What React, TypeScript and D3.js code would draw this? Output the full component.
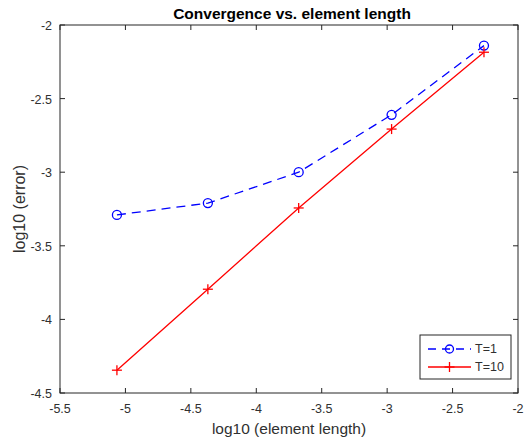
import React from "react";
import * as d3 from "d3";

const xVals = [-5.065, -4.37, -3.676, -2.966, -2.26];
const seriesT1 = [-3.29, -3.21, -3.0, -2.61, -2.14];
const seriesT10 = [-4.345, -3.795, -3.243, -2.707, -2.185];
const xTicks = [-5.5, -5, -4.5, -4, -3.5, -3, -2.5, -2];
const yTicks = [-4.5, -4, -3.5, -3, -2.5, -2];

const W = 528, H = 440;
const M = { left: 60, right: 518, top: 25, bottom: 393 };

export default function App() {
  const x = d3.scaleLinear().domain([-5.5, -2]).range([M.left, M.right]);
  const y = d3.scaleLinear().domain([-4.5, -2]).range([M.bottom, M.top]);
  const line = d3.line<number>().x((_, i) => x(xVals[i])).y((d) => y(d));
  const font = "Liberation Sans, Arial, sans-serif";
  const tickLen = 5;
  const axisColor = "#262626";
  const textColor = "#303030";
  return (
    <svg width={W} height={H} style={{ position: "absolute", left: 0, top: 0, background: "#fff" }} fontFamily={font}>
      <rect x={0} y={0} width={W} height={H} fill="#fff" />
      <rect x={M.left} y={M.top} width={M.right - M.left} height={M.bottom - M.top} fill="#fff" stroke={axisColor} strokeWidth={1} />
      {xTicks.map((t) => (
        <g key={"x" + t}>
          <line x1={x(t)} x2={x(t)} y1={M.bottom} y2={M.bottom - tickLen} stroke={axisColor} />
          <line x1={x(t)} x2={x(t)} y1={M.top} y2={M.top + tickLen} stroke={axisColor} />
          <text x={x(t)} y={M.bottom + 20} textAnchor="middle" fontSize={12.5} fill={textColor}>{t}</text>
        </g>
      ))}
      {yTicks.map((t) => (
        <g key={"y" + t}>
          <line x1={M.left} x2={M.left + tickLen} y1={y(t)} y2={y(t)} stroke={axisColor} />
          <line x1={M.right} x2={M.right - tickLen} y1={y(t)} y2={y(t)} stroke={axisColor} />
          <text x={M.left - 8} y={y(t) + 5} textAnchor="end" fontSize={12.5} fill={textColor}>{t}</text>
        </g>
      ))}
      <text x={(M.left + M.right) / 2 + 3} y={19} textAnchor="middle" fontSize={15.5} fontWeight="bold" fill="#000">Convergence vs. element length</text>
      <text x={(M.left + M.right) / 2} y={434} textAnchor="middle" fontSize={15.5} fill={textColor}>log10 (element length)</text>
      <text transform={`translate(25, ${(M.top + M.bottom) / 2}) rotate(-90)`} textAnchor="middle" fontSize={16} fill={textColor}>log10 (error)</text>

      <path d={line(seriesT1) || ""} fill="none" stroke="#0000ff" strokeWidth={1.3} strokeDasharray="9,6" />
      {seriesT1.map((v, i) => (
        <circle key={"c" + i} cx={x(xVals[i])} cy={y(v)} r={4.5} fill="none" stroke="#0000ff" strokeWidth={1.3} />
      ))}
      <path d={line(seriesT10) || ""} fill="none" stroke="#ff0000" strokeWidth={1.3} />
      {seriesT10.map((v, i) => (
        <g key={"p" + i} stroke="#ff0000" strokeWidth={1.3}>
          <line x1={x(xVals[i]) - 5} x2={x(xVals[i]) + 5} y1={y(v)} y2={y(v)} />
          <line x1={x(xVals[i])} x2={x(xVals[i])} y1={y(v) - 5} y2={y(v) + 5} />
        </g>
      ))}

      <g>
        <rect x={420} y={335} width={91} height={44} fill="#fff" stroke={axisColor} strokeWidth={1} />
        <line x1={428} x2={471} y1={349} y2={349} stroke="#0000ff" strokeWidth={1.3} strokeDasharray="8,6" />
        <circle cx={449.5} cy={349} r={4} fill="none" stroke="#0000ff" strokeWidth={1.3} />
        <text x={475} y={353} fontSize={12.5} fill={textColor}>T=1</text>
        <line x1={428} x2={471} y1={367} y2={367} stroke="#ff0000" strokeWidth={1.3} />
        <line x1={449.5} x2={449.5} y1={362} y2={372} stroke="#ff0000" strokeWidth={1.3} />
        <line x1={444.5} x2={454.5} y1={367} y2={367} stroke="#ff0000" strokeWidth={1.3} />
        <text x={475} y={371} fontSize={12.5} fill={textColor}>T=10</text>
      </g>
    </svg>
  );
}
